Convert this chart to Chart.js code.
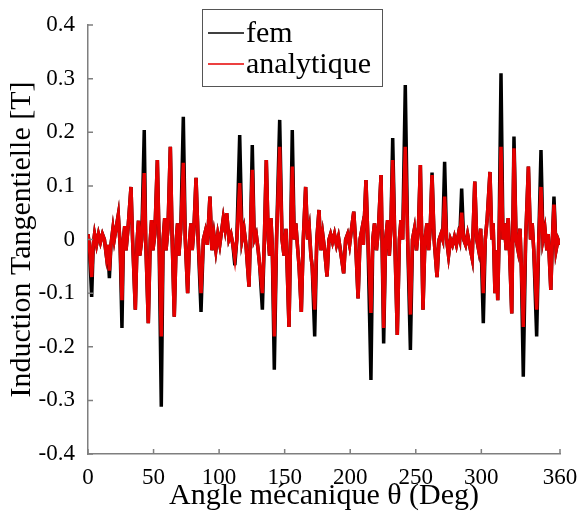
<!DOCTYPE html>
<html>
<head>
<meta charset="utf-8">
<script src="https://cdn.jsdelivr.net/npm/chart.js@4.4.0/dist/chart.umd.min.js"></script>
<style>
  html, body { margin: 0; padding: 0; background: #fff; }
  #wrap { width: 587px; height: 516px; }
</style>
</head>
<body>
<div id="wrap"><canvas id="myChart" width="587" height="516"></canvas></div>
<script>
// angle (deg) of each sample
const angles = [
  0, 1, 2.8, 4, 5, 6.5, 8, 9.5, 11, 12.5, 14, 15, 16.3, 17.5, 19, 20, 21, 23.1, 24.5, 25.9,
  27, 28, 29, 30.5, 32.8, 34, 36.1, 37.5, 38.5, 39.5, 41, 42.9, 44, 46, 47.5, 48.5, 49.5, 51, 52.9, 54.2,
  55.9, 57.3, 58.5, 59.5, 61, 62.8, 64.2, 65.8, 67.3, 68.3, 69.3, 70.8, 72.7, 74.2, 76, 77.5, 78.5, 79.5, 80.8, 82.4,
  84, 86.2, 88, 89.5, 91, 93, 94.5, 96, 97.5, 99, 100.5, 103.2, 104.5, 105.8, 107.5, 109, 110.5, 112, 113.5, 115.7,
  117.5, 119, 120.5, 122.8, 124, 125.3, 126.8, 128.3, 129.8, 131, 133, 134.5, 136, 137.5, 138.5, 139.5, 140.5, 142.1, 143.8, 146.2,
  148, 149.5, 151, 153.3, 154.5, 155.8, 157.3, 158.5, 160, 161, 162.7, 164.2, 166, 167.5, 168.8, 170, 171, 172.9, 174.5, 176.2,
  177.5, 179, 180.5, 182.3, 183.8, 185, 186.5, 188, 189.5, 191, 192.5, 195, 196.5, 198, 199.5, 201, 202.7, 204, 206, 207.5,
  209, 210, 212, 213.5, 215.8, 217.2, 218.5, 220, 221.5, 223.5, 225.5, 227, 228.5, 229.8, 231, 232.4, 234, 235.9, 237.5, 238.7,
  240, 242, 243.8, 245.9, 247.5, 249, 250.5, 252, 253.5, 255.5, 257, 258.5, 259.8, 261, 262.4, 264, 266.2, 267.8, 269.2, 270.5,
  272, 273.5, 275, 276.5, 278, 279.5, 281, 282.5, 283.5, 285, 286.5, 288, 289.5, 291, 293, 295, 296.5, 298, 299.5, 301.5,
  303, 304.5, 306.6, 308, 309, 310.4, 311.5, 312.5, 313.5, 315, 316.5, 317.5, 319, 320.5, 321.5, 323.2, 324.9, 326.5, 328, 329.5,
  330.5, 332, 333.8, 335.9, 337.5, 338.8, 340, 342.2, 343.8, 345.5, 347, 348.5, 350, 351, 353, 354.2, 355.4, 357, 358.5, 360
];

// fem (black)
const femValues = [
  0.01, -0.01, -0.107, -0.01, 0.01, -0.01, 0.01, -0.005, 0.01, 0.0, -0.03, -0.01, -0.072, -0.01, 0.02, 0.0, 0.015, 0.046, -0.01, -0.165,
  0.0, 0.025, -0.02, 0.02, 0.098, 0.0, -0.131, 0.0, 0.035, -0.03, 0.0, 0.204, 0.0, -0.156, 0.0, 0.036, -0.02, 0.01, 0.148, 0.0,
  -0.312, 0.0, 0.04, -0.02, 0.02, 0.173, 0.0, -0.144, 0.0, 0.03, -0.03, 0.02, 0.229, 0.0, -0.1, 0.0, 0.03, -0.02, 0.02, 0.115,
  0.0, -0.135, 0.0, 0.015, -0.01, 0.08, -0.02, 0.01, -0.02, 0.01, -0.01, 0.04, 0.02, 0.049, 0.0, 0.01, -0.01, -0.048, 0.0, 0.195,
  0.0, 0.02, -0.01, -0.088, 0.02, 0.176, 0.0, 0.01, -0.02, -0.05, -0.131, 0.0, 0.148, 0.0, -0.03, 0.04, -0.01, -0.243, 0.0, 0.223,
  0.0, -0.03, 0.02, -0.163, 0.0, 0.204, 0.0, 0.03, -0.02, -0.05, -0.135, 0.0, 0.098, 0.0, 0.02, -0.03, -0.05, -0.181, 0.0, 0.055,
  -0.02, 0.01, -0.02, -0.069, 0.0, 0.01, -0.005, 0.01, -0.01, 0.005, -0.02, -0.063, 0.0, 0.01, -0.01, 0.02, 0.052, 0.0, -0.11, 0.0,
  0.02, -0.01, 0.111, 0.0, -0.262, 0.0, 0.03, -0.02, 0.02, 0.12, -0.194, 0.0, 0.036, -0.03, 0.02, 0.189, 0.0, -0.178, 0.0, 0.036,
  0.0, 0.288, 0.0, -0.206, 0.0, 0.02, -0.02, 0.02, 0.139, -0.131, 0.0, 0.03, -0.02, 0.02, 0.125, 0.0, -0.07, 0.0, 0.01, 0.0,
  0.145, 0.0, -0.03, 0.0, -0.01, 0.005, -0.01, 0.01, 0.0, 0.095, 0.0, -0.01, 0.01, -0.01, -0.035, 0.108, 0.0, -0.02, 0.02, -0.156,
  0.0, 0.04, 0.126, 0.0, 0.03, -0.1, -0.02, -0.113, 0.0, 0.31, 0.0, 0.03, -0.02, 0.04, -0.02, -0.138, 0.192, 0.0, -0.02, 0.02,
  -0.05, -0.256, 0.0, 0.136, 0.0, 0.03, -0.02, -0.181, 0.0, 0.167, 0.0, 0.02, -0.02, 0.01, -0.094, 0.0, 0.08, -0.02, 0.0, -0.01
];

// analytique (red)
const analytiqueValues = [
  0.01, -0.01, -0.07, -0.01, 0.01, -0.01, 0.01, -0.005, 0.01, 0.0, -0.03, -0.01, -0.058, -0.01, 0.02, 0.0, 0.015, 0.046, -0.01, -0.113,
  0.0, 0.025, -0.02, 0.02, 0.098, 0.0, -0.131, 0.0, 0.035, -0.03, 0.0, 0.124, 0.0, -0.156, 0.0, 0.036, -0.02, 0.01, 0.148, 0.0,
  -0.181, 0.0, 0.04, -0.02, 0.02, 0.173, 0.0, -0.144, 0.0, 0.03, -0.03, 0.02, 0.143, 0.0, -0.1, 0.0, 0.03, -0.02, 0.02, 0.115,
  0.0, -0.10, 0.0, 0.015, -0.01, 0.08, -0.02, 0.01, -0.02, 0.01, -0.01, 0.04, 0.02, 0.049, 0.0, 0.01, -0.01, -0.035, 0.0, 0.105,
  0.0, 0.02, -0.01, -0.088, 0.02, 0.13, 0.0, 0.01, -0.02, -0.05, -0.10, 0.0, 0.148, 0.0, -0.03, 0.04, -0.01, -0.181, 0.0, 0.173,
  0.0, -0.03, 0.02, -0.163, 0.0, 0.136, 0.0, 0.03, -0.02, -0.05, -0.135, 0.0, 0.098, 0.0, 0.02, -0.03, -0.05, -0.131, 0.0, 0.055,
  -0.02, 0.01, -0.02, -0.069, 0.0, 0.01, -0.005, 0.01, -0.01, 0.005, -0.02, -0.063, 0.0, 0.01, -0.01, 0.02, 0.052, 0.0, -0.11, 0.0,
  0.02, -0.01, 0.111, 0.0, -0.137, 0.0, 0.03, -0.02, 0.02, 0.12, -0.165, 0.0, 0.036, -0.03, 0.02, 0.148, 0.0, -0.178, 0.0, 0.036,
  0.0, 0.173, 0.0, -0.14, 0.0, 0.02, -0.02, 0.02, 0.139, -0.131, 0.0, 0.03, -0.02, 0.02, 0.12, 0.0, -0.07, 0.0, 0.01, 0.0,
  0.08, 0.0, -0.03, 0.0, -0.01, 0.005, -0.01, 0.01, 0.0, 0.05, 0.0, -0.01, 0.01, -0.01, -0.035, 0.108, 0.0, -0.02, 0.02, -0.10,
  0.0, 0.04, 0.126, 0.0, 0.03, -0.1, -0.02, -0.113, 0.0, 0.173, 0.0, 0.03, -0.02, 0.04, -0.02, -0.138, 0.17, 0.0, -0.02, 0.02,
  -0.05, -0.163, 0.0, 0.136, 0.0, 0.03, -0.02, -0.131, 0.0, 0.098, 0.0, 0.02, -0.02, 0.01, -0.094, 0.0, 0.065, -0.02, 0.0, -0.01
];

const xTickValues = [0, 50, 100, 150, 200, 250, 300, 360];
const yTickValues = [-0.4, -0.3, -0.2, -0.1, 0, 0.1, 0.2, 0.3, 0.4];

const serif = '"Liberation Serif", "Times New Roman", serif';
const axisGray = '#7f7f7f';

// short inward tick marks + boxed legend drawn on top
const extras = {
  id: 'extras',
  afterDraw(chart) {
    const ctx = chart.ctx;
    const xs = chart.scales.x, ys = chart.scales.y;
    const area = chart.chartArea;
    ctx.save();
    ctx.strokeStyle = axisGray;
    ctx.lineWidth = 1.5;
    ctx.beginPath();
    xTickValues.forEach(v => {
      const px = xs.getPixelForValue(v);
      ctx.moveTo(px, area.bottom);
      ctx.lineTo(px, area.bottom - 5);
    });
    yTickValues.forEach(v => {
      const py = ys.getPixelForValue(v);
      ctx.moveTo(area.left, py);
      ctx.lineTo(area.left + 5, py);
    });
    ctx.stroke();

    // legend
    const bx = 202, by = 9, bw = 180, bh = 77;
    ctx.fillStyle = '#fff';
    ctx.fillRect(bx, by, bw, bh);
    ctx.strokeStyle = '#555';
    ctx.lineWidth = 1;
    ctx.strokeRect(bx + 0.5, by + 0.5, bw, bh);
    ctx.font = '30px ' + serif;
    ctx.textBaseline = 'alphabetic';
    chart.data.datasets.slice().sort((a, b) => a.legendRow - b.legendRow).forEach((ds, i) => {
      const ly = by + 24 + i * 31;
      ctx.strokeStyle = ds.borderColor;
      ctx.lineWidth = 1.5;
      ctx.beginPath();
      ctx.moveTo(bx + 6, ly);
      ctx.lineTo(bx + 42, ly);
      ctx.stroke();
      ctx.fillStyle = '#000';
      ctx.fillText(ds.label, bx + 44, ly + 9);
    });
    ctx.restore();
  }
};

new Chart(document.getElementById('myChart'), {
  type: 'line',
  data: {
    datasets: [
      {
        label: 'fem',
        legendRow: 0,
        data: angles.map((a, i) => ({ x: a, y: femValues[i] })),
        borderColor: '#000000',
        borderWidth: 3.5,
        pointRadius: 0,
        tension: 0,
        order: 2
      },
      {
        label: 'analytique',
        legendRow: 1,
        data: angles.map((a, i) => ({ x: a, y: analytiqueValues[i] })),
        borderColor: '#e60000',
        borderWidth: 3.5,
        pointRadius: 0,
        tension: 0,
        order: 1
      }
    ]
  },
  options: {
    responsive: false,
    animation: false,
    layout: { padding: { left: 0, right: 27, top: 25, bottom: 0 } },
    plugins: { legend: { display: false }, tooltip: { enabled: false } },
    scales: {
      x: {
        type: 'linear',
        min: 0,
        max: 360,
        afterBuildTicks: s => { s.ticks = xTickValues.map(v => ({ value: v })); },
        afterFit: s => { s.height = 62; },
        grid: { display: false },
        border: { display: true, color: axisGray, width: 1.5 },
        ticks: {
          color: '#000',
          font: { family: serif, size: 23 },
          padding: 2,
          maxRotation: 0,
          callback: v => String(v)
        },
        title: {
          display: true,
          text: 'Angle mécanique θ (Deg)',
          color: '#000',
          font: { family: serif, size: 30 },
          padding: { top: 0, bottom: 2 }
        }
      },
      y: {
        min: -0.4,
        max: 0.4,
        afterBuildTicks: s => { s.ticks = yTickValues.map(v => ({ value: v })); },
        afterFit: s => { s.width = 88; },
        grid: { display: false },
        border: { display: true, color: axisGray, width: 1.5 },
        ticks: {
          color: '#000',
          font: { family: serif, size: 23 },
          padding: 5,
          callback: v => (Math.abs(v) < 1e-9 ? '0' : v.toFixed(1))
        },
        title: {
          display: true,
          text: 'Induction Tangentielle [T]',
          color: '#000',
          font: { family: serif, size: 30 },
          padding: { top: 4, bottom: 0 }
        }
      }
    }
  },
  plugins: [extras]
});
</script>
</body>
</html>
